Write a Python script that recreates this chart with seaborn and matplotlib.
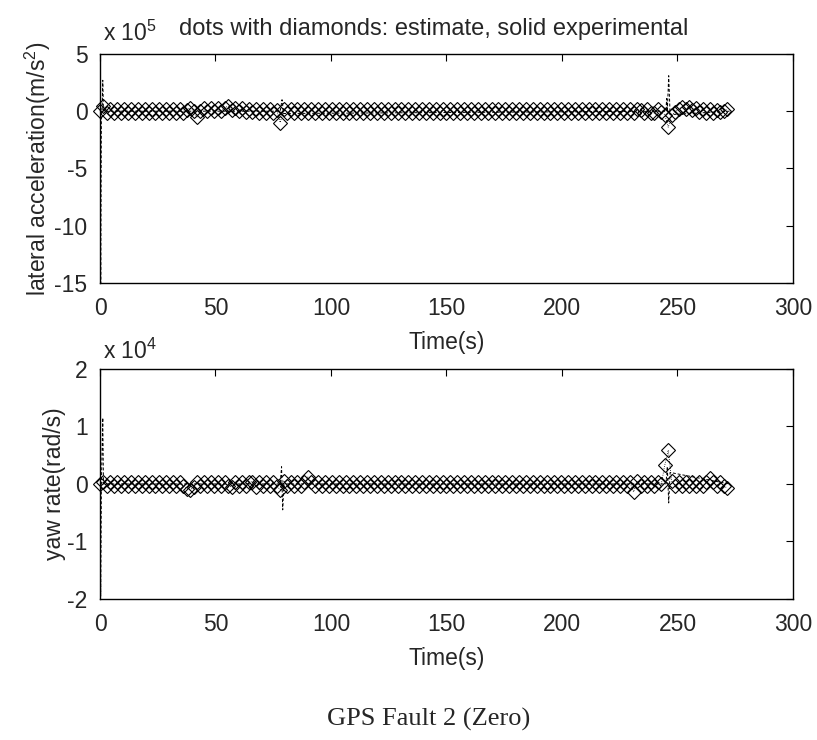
import numpy as np
import pandas as pd
import matplotlib
matplotlib.use("Agg")
import matplotlib.pyplot as plt
import seaborn as sns

# estimate samples (every 1.5 s), values in units of 1e5 / 1e4
dt_est = 1.5
n_est = 182
time_est = np.arange(n_est) * dt_est

lat_est = [
    0.0, 0.45, -0.15, 0.15, -0.15, 0.15, -0.15, 0.15, -0.15, 0.15,
    -0.15, 0.15, -0.15, 0.15, -0.15, 0.15, -0.15, 0.15, -0.15, 0.15,
    -0.15, 0.15, -0.15, 0.15, -0.15, 0.1, 0.3, 0.0, -0.5, 0.05,
    0.25, 0.05, 0.25, 0.0, 0.3, 0.05, 0.3, 0.45, 0.1, 0.3,
    0.05, 0.25, -0.05, 0.2, -0.1, 0.15, -0.15, 0.15, -0.15, 0.15,
    -0.15, 0.1, -1.0, 0.2, -0.15, 0.15, -0.15, 0.15, -0.15, 0.15,
    -0.15, 0.15, -0.15, 0.15, -0.15, 0.15, -0.15, 0.15, -0.15, 0.15,
    -0.15, 0.15, -0.15, 0.15, -0.15, 0.15, -0.15, 0.15, -0.15, 0.15,
    -0.15, 0.15, -0.15, 0.15, -0.15, 0.15, -0.15, 0.15, -0.15, 0.15,
    -0.15, 0.15, -0.15, 0.15, -0.15, 0.15, -0.15, 0.15, -0.15, 0.15,
    -0.15, 0.15, -0.15, 0.15, -0.15, 0.15, -0.15, 0.15, -0.15, 0.15,
    -0.15, 0.15, -0.15, 0.15, -0.15, 0.15, -0.15, 0.15, -0.15, 0.15,
    -0.15, 0.15, -0.15, 0.15, -0.15, 0.15, -0.15, 0.15, -0.15, 0.15,
    -0.15, 0.15, -0.15, 0.15, -0.15, 0.15, -0.15, 0.15, -0.15, 0.15,
    -0.15, 0.15, -0.15, 0.15, -0.15, 0.15, -0.15, 0.15, -0.15, 0.15,
    -0.15, 0.15, -0.15, 0.15, -0.15, 0.15, 0.1, -0.15, 0.15, -0.15,
    -0.15, 0.15, -0.1, -0.3, -1.4, -0.3, -0.1, 0.2, 0.35, 0.15,
    0.4, 0.1, 0.3, -0.1, 0.15, -0.15, 0.15, -0.15, 0.1, -0.1,
    0.05, 0.15,
]

yaw_est = [
    0.0, 0.03, -0.03, 0.03, -0.03, 0.03, -0.03, 0.03, -0.03, 0.03,
    -0.03, 0.03, -0.03, 0.03, -0.03, 0.03, -0.03, 0.03, -0.03, 0.03,
    -0.03, 0.03, -0.03, 0.03, -0.03, -0.08, -0.1, -0.06, 0.03, -0.03,
    0.03, -0.03, 0.03, -0.03, 0.03, -0.03, 0.03, -0.03, -0.05, 0.03,
    -0.03, 0.03, -0.03, 0.03, 0.04, -0.06, 0.03, -0.03, 0.03, -0.03,
    0.03, -0.03, -0.1, 0.06, -0.03, 0.03, -0.03, 0.03, -0.03, 0.03,
    0.12, 0.03, -0.03, 0.03, -0.03, 0.03, -0.03, 0.03, -0.03, 0.03,
    -0.03, 0.03, -0.03, 0.03, -0.03, 0.03, -0.03, 0.03, -0.03, 0.03,
    -0.03, 0.03, -0.03, 0.03, -0.03, 0.03, -0.03, 0.03, -0.03, 0.03,
    -0.03, 0.03, -0.03, 0.03, -0.03, 0.03, -0.03, 0.03, -0.03, 0.03,
    -0.03, 0.03, -0.03, 0.03, -0.03, 0.03, -0.03, 0.03, -0.03, 0.03,
    -0.03, 0.03, -0.03, 0.03, -0.03, 0.03, -0.03, 0.03, -0.03, 0.03,
    -0.03, 0.03, -0.03, 0.03, -0.03, 0.03, -0.03, 0.03, -0.03, 0.03,
    -0.03, 0.03, -0.03, 0.03, -0.03, 0.03, -0.03, 0.03, -0.03, 0.03,
    -0.03, 0.03, -0.03, 0.03, -0.03, 0.03, -0.03, 0.03, -0.03, 0.03,
    -0.03, 0.03, -0.03, 0.03, -0.14, 0.05, -0.03, 0.03, -0.03, 0.03,
    -0.03, 0.03, 0.0, 0.33, 0.59, 0.05, -0.03, 0.03, -0.03, 0.03,
    -0.03, 0.03, -0.03, 0.03, -0.03, 0.03, 0.1, 0.03, -0.03, 0.03,
    -0.03, -0.07,
]

# experimental signal: flat with a few spikes
lat_exp_t = [0.0, 0.3, 0.6, 0.9, 1.2, 1.5, 78.0, 78.8, 79.5, 245.0, 245.3, 245.6, 246.2, 246.8, 272.5]
lat_exp_v = [0.0, -15.0, 0.0, 0.0, 2.7, 0.0, 0.0, 1.0, -0.2, 0.0, 1.1, 0.0, 3.1, -0.3, 0.0]
yaw_exp_t = [0.0, 0.3, 0.6, 1.2, 1.5, 78.0, 78.6, 79.1, 79.6, 245.0, 245.6, 246.2, 246.8, 272.5]
yaw_exp_v = [0.0, -1.95, 0.0, 1.15, 0.0, 0.0, 0.3, -0.45, 0.0, 0.0, 0.3, -0.33, 0.2, 0.0]

x_ticks = [0, 50, 100, 150, 200, 250, 300]
lat_ticks = [-15, -10, -5, 0, 5]
yaw_ticks = [-2, -1, 0, 1, 2]

sns.set_style("white")
plt.rcParams["font.family"] = ["Liberation Sans", "DejaVu Sans"]
plt.rcParams["mathtext.fontset"] = "custom"
plt.rcParams["mathtext.rm"] = "Liberation Sans"
plt.rcParams["mathtext.it"] = "Liberation Sans"
plt.rcParams["axes.unicode_minus"] = False

fs = 16.5
fig = plt.figure(figsize=(8.17, 7.40), dpi=100)
ax1 = fig.add_axes([0.1224, 0.6176, 0.8482, 0.3095])
ax2 = fig.add_axes([0.1224, 0.1905, 0.8482, 0.3110])

panels = [
    (ax1, lat_est, lat_exp_t, lat_exp_v, (-15, 5), lat_ticks,
     "lateral acceleration(m/s$^2$)", "x 10$^5$"),
    (ax2, yaw_est, yaw_exp_t, yaw_exp_v, (-2, 2), yaw_ticks,
     "yaw rate(rad/s)", "x 10$^4$"),
]

for ax, est, et, ev, ylim, yt, ylab, mult in panels:
    est_df = pd.DataFrame({"t": time_est, "v": est})
    exp_df = pd.DataFrame({"t": et, "v": ev})
    sns.lineplot(data=exp_df, x="t", y="v", estimator=None, sort=False, ax=ax,
                 color="black", linewidth=0.7, linestyle=(0, (3, 2)))
    sns.lineplot(data=est_df, x="t", y="v", estimator=None, sort=False, ax=ax,
                 color="black", linewidth=0.6, linestyle=":", marker="D",
                 markersize=7.5, markerfacecolor="none", markeredgecolor="black",
                 markeredgewidth=0.8, clip_on=False)
    ax.set_xlim(0, 300)
    ax.set_ylim(*ylim)
    ax.set_xticks(x_ticks)
    ax.set_yticks(yt)
    ax.set_xlabel("Time(s)", fontsize=fs, labelpad=8)
    ax.set_ylabel(ylab, fontsize=fs, labelpad=1)
    ax.tick_params(axis="x", pad=10)
    ax.tick_params(axis="y", pad=9)
    ax.tick_params(direction="in", top=True, right=True, length=5,
                   width=0.8, labelsize=fs, color="black")
    for s in ax.spines.values():
        s.set_color("black")
        s.set_linewidth(1.0)

ax1.text(0.005, 1.035, "x 10$^5$", transform=ax1.transAxes, fontsize=fs,
         ha="left", va="bottom")
ax2.text(0.005, 1.02, "x 10$^4$", transform=ax2.transAxes, fontsize=fs,
         ha="left", va="bottom")
ax1.set_title("dots with diamonds: estimate, solid experimental",
              fontsize=17, pad=14, x=0.482)

fig.text(0.525, 0.012, "GPS Fault 2 (Zero)", ha="center", va="bottom",
         fontsize=19, family=["Liberation Serif", "DejaVu Serif"])

fig.savefig("out.png", dpi=100)
